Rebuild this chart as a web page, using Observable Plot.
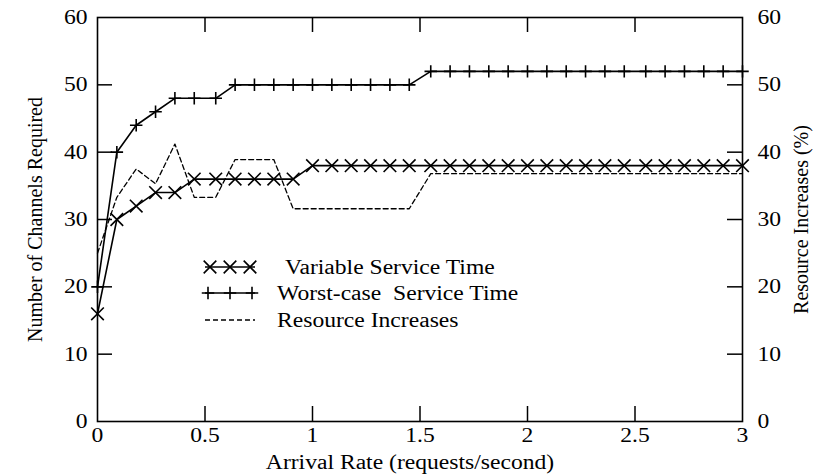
<!DOCTYPE html>
<html>
<head>
<meta charset="utf-8">
<script src="https://cdn.jsdelivr.net/npm/d3@7"></script>
<script src="https://cdn.jsdelivr.net/npm/@observablehq/plot@0.6"></script>
<style>
  html, body { margin: 0; padding: 0; background: #fff; }
  #chart svg { display: block; }
</style>
</head>
<body>
<div id="chart"></div>
<script>
// Arrival rate (requests/second) at each simulated point
const arrivalRate = [
  0, 0.09, 0.18, 0.27, 0.36, 0.45, 0.55, 0.64, 0.73, 0.82, 0.91,
  1.0, 1.09, 1.18, 1.27, 1.36, 1.45, 1.55, 1.64, 1.73, 1.82, 1.91,
  2.0, 2.09, 2.18, 2.27, 2.36, 2.45, 2.55, 2.64, 2.73, 2.82, 2.91, 3.0
];
// Channels required with variable service time
const variableService = [
  16, 30, 32, 34, 34, 36, 36, 36, 36, 36, 36,
  38, 38, 38, 38, 38, 38, 38, 38, 38, 38, 38,
  38, 38, 38, 38, 38, 38, 38, 38, 38, 38, 38, 38
];
// Channels required with worst-case service time
const worstCaseService = [
  20, 40, 44, 46, 48, 48, 48, 50, 50, 50, 50,
  50, 50, 50, 50, 50, 50, 52, 52, 52, 52, 52,
  52, 52, 52, 52, 52, 52, 52, 52, 52, 52, 52, 52
];
// Resource increase (%) of worst-case over variable service time
const resourceIncrease = [
  25, 33.3, 37.5, 35.3, 41.2, 33.3, 33.3, 38.9, 38.9, 38.9, 31.6,
  31.6, 31.6, 31.6, 31.6, 31.6, 31.6, 36.8, 36.8, 36.8, 36.8, 36.8,
  36.8, 36.8, 36.8, 36.8, 36.8, 36.8, 36.8, 36.8, 36.8, 36.8, 36.8, 36.8
];

const xTicks = [0, 0.5, 1, 1.5, 2, 2.5, 3];
const yTicks = [0, 10, 20, 30, 40, 50, 60];
const xInnerTicks = [0.5, 1, 1.5, 2, 2.5];
const yInnerTicks = [10, 20, 30, 40, 50];

const xLabel = "Arrival Rate (requests/second)";
const yLeftLabel = "Number of Channels Required";
const yRightLabel = "Resource Increases (%)";
const legendLabels = ["Variable Service Time", "Worst-case  Service Time", "Resource Increases"];

const W = 830, H = 476;
const M = {top: 17, right: 88, bottom: 55, left: 97};
const innerW = W - M.left - M.right;
const innerH = H - M.top - M.bottom;
const tickLen = 15;
const fontFamily = "'Liberation Serif', 'Times New Roman', Times, serif";
const fs = 20;
const widen = 1.18; // horizontal stretch of the serif lettering
const timesR = 5.8, plusR = 4.1;

const rows = arrivalRate.map((x, i) => ({
  x,
  variable: variableService[i],
  worst: worstCaseService[i],
  increase: resourceIncrease[i]
}));

const plot = Plot.plot({
  width: W,
  height: H,
  marginTop: M.top,
  marginRight: M.right,
  marginBottom: M.bottom,
  marginLeft: M.left,
  x: {domain: [0, 3]},
  y: {domain: [0, 60]},
  style: {fontFamily, fontSize: `${fs}px`, color: "#000", background: "#fff"},
  marks: [
    // tick labels
    Plot.axisX(xTicks, {tickSize: 0, tickPadding: 6, fontSize: fs, label: null, tickFormat: d => String(d)}),
    Plot.axisY(yTicks, {anchor: "left", tickSize: 0, tickPadding: 10, fontSize: fs, label: null}),
    Plot.axisY(yTicks, {anchor: "right", tickSize: 0, tickPadding: 15, fontSize: fs, label: null}),
    // inward tick marks on all four sides
    Plot.tickY(yInnerTicks, {y: d => d, insetRight: innerW - tickLen, strokeWidth: 1.5}),
    Plot.tickY(yInnerTicks, {y: d => d, insetLeft: innerW - tickLen, strokeWidth: 1.5}),
    Plot.tickX(xInnerTicks, {x: d => d, insetTop: innerH - tickLen, strokeWidth: 1.5}),
    Plot.tickX(xInnerTicks, {x: d => d, insetBottom: innerH - tickLen, strokeWidth: 1.5}),
    Plot.frame({stroke: "#000", strokeWidth: 1.6}),
    // axis titles
    Plot.text([xLabel], {text: d => d, frameAnchor: "bottom", dx: -10, dy: 47, fontSize: fs}),
    Plot.text([yLeftLabel], {text: d => d, frameAnchor: "left", dx: -62, rotate: -90, textAnchor: "middle", fontSize: fs}),
    Plot.text([yRightLabel], {text: d => d, frameAnchor: "right", dx: 59, rotate: -90, textAnchor: "middle", fontSize: fs}),
    // series
    Plot.line(rows, {x: "x", y: "increase", stroke: "#000", strokeWidth: 1.3, strokeDasharray: "5,3"}),
    Plot.line(rows, {x: "x", y: "variable", stroke: "#000", strokeWidth: 1.6}),
    Plot.dot(rows, {x: "x", y: "variable", symbol: "times", r: timesR, stroke: "#000", strokeWidth: 1.6}),
    Plot.line(rows, {x: "x", y: "worst", stroke: "#000", strokeWidth: 1.6}),
    Plot.dot(rows, {x: "x", y: "worst", symbol: "plus", r: plusR, stroke: "#000", strokeWidth: 1.6})
  ]
});

document.getElementById("chart").appendChild(plot);

// legend inside the plot area
const svg = d3.select(plot);
const legend = svg.append("g")
  .attr("font-family", fontFamily)
  .attr("font-size", fs)
  .attr("text-anchor", "start")
  .attr("fill", "#000");
const sampleX0 = 205, sampleX1 = 255;
const rowY = [267, 293, 320];
const textX = [285, 277, 277];
const timesXs = [210, 230, 250];
const plusXs = [208, 230, 252];
const timesPath = d3.symbol(d3.symbolTimes, Math.PI * timesR * timesR)();
const plusPath = d3.symbol(d3.symbolPlus, Math.PI * plusR * plusR)();

legendLabels.forEach((label, i) => {
  const y = rowY[i];
  legend.append("line")
    .attr("x1", sampleX0).attr("x2", sampleX1)
    .attr("y1", y).attr("y2", y)
    .attr("stroke", "#000")
    .attr("stroke-width", i === 2 ? 1.3 : 1.6)
    .attr("stroke-dasharray", i === 2 ? "5,3" : null);
  if (i < 2) {
    (i === 0 ? timesXs : plusXs).forEach(mx => {
      legend.append("path")
        .attr("d", i === 0 ? timesPath : plusPath)
        .attr("transform", `translate(${mx},${y})`)
        .attr("fill", "none")
        .attr("stroke", "#000")
        .attr("stroke-width", 1.6);
    });
  }
  legend.append("text")
    .attr("x", textX[i]).attr("y", y)
    .attr("dy", "0.35em")
    .style("white-space", "pre")
    .text(label);
});

// widen the horizontal lettering (rotated axis titles keep their shape)
svg.selectAll("text").each(function () {
  const t = this.textContent;
  if (t === yLeftLabel || t === yRightLabel) return;
  const len = this.getComputedTextLength();
  if (len > 0) {
    this.setAttribute("textLength", (len * widen).toFixed(2));
    this.setAttribute("lengthAdjust", "spacingAndGlyphs");
  }
});
</script>
</body>
</html>
